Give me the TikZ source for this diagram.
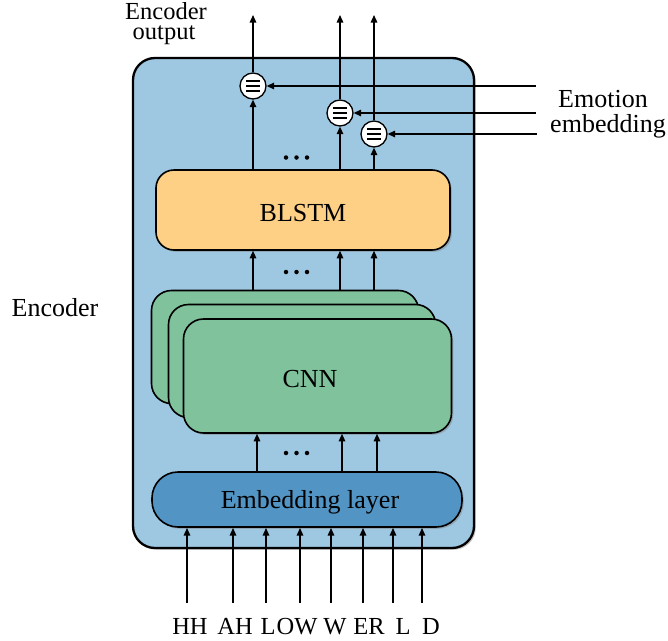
\documentclass[tikz,border=0pt]{standalone}
\usepackage{fontspec}
\setmainfont{Liberation Serif}
\usetikzlibrary{arrows.meta,shadows}
\definecolor{encbg}{HTML}{9EC7E1}
\definecolor{blstmc}{HTML}{FDD086}
\definecolor{cnnc}{HTML}{7FC29B}
\definecolor{embc}{HTML}{5294C3}
\begin{document}
\begin{tikzpicture}[x=1pt,y=-1pt,
  txt/.style={font=\fontsize{26}{30}\selectfont, inner sep=0pt, anchor=base},
  small/.style={font=\fontsize{24.5}{28}\selectfont, inner sep=0pt, anchor=base},
  box/.style={draw=black, line width=1.6pt, rounded corners=#1, inner sep=0pt,
    drop shadow={shadow xshift=1.8pt,shadow yshift=-1.8pt,opacity=0.45}},
  arr/.style={-{Triangle[length=7.5pt,width=6.5pt]}, line width=1.3pt},
  mix/.style={circle, draw, fill=white, line width=1.3pt, minimum size=26pt, inner sep=0pt,
    path picture={
      \foreach \dy in {-5,0,5}
        \draw[line width=2.2pt] ([xshift=-7pt,yshift=\dy pt]path picture bounding box.center) -- ++(14,0);
    }},
  dot/.style={circle, fill=black, inner sep=0pt, minimum size=4.5pt}
]
\useasboundingbox (0,0) rectangle (668,640);

% boxes
\node[box=22pt, fill=encbg, line width=2.3pt, minimum width=341pt, minimum height=490pt] (enc) at (303.5,303) {};
\node[box=18pt, fill=blstmc, minimum width=294pt, minimum height=80pt] (blstm) at (303,210) {};
\node[box=20pt, fill=cnnc, minimum width=267pt, minimum height=113pt] (cnnA) at (285,347) {};
\node[box=20pt, fill=cnnc, minimum width=267pt, minimum height=113pt] (cnnB) at (302,361) {};
\node[box=20pt, fill=cnnc, minimum width=268pt, minimum height=114pt] (cnnC) at (317.5,376) {};
\node[box=26pt, fill=embc, minimum width=310pt, minimum height=55pt] (emb) at (307,499.5) {};

% labels
\node[txt] (tblstm) at (303,221) {BLSTM};
\node[txt] (tcnn) at (310,387) {CNN};
\node[txt] (temb) at (310,508) {Embedding layer};
\node[txt] (tenc) at (55,316) {Encoder};
\node[small] (tout1) at (166,19) {Encoder};
\node[small] (tout2) at (164,39) {output};
\node[txt] (tem1) at (603,107) {Emotion};
\node[txt] (tem2) at (608,132) {embedding};

% mixers
\node[mix] (c1) at (253,86) {};
\node[mix] (c2) at (340,113) {};
\node[mix] (c3) at (374,134) {};

% dots
\foreach \n/\y in {A/157.5,B/272,C/453} {
  \node[dot] (\n1) at (286,\y) {};
  \node[dot] (\n2) at (296.5,\y) {};
  \node[dot] (\n3) at (307,\y) {};
}

% top coordinates
\coordinate (top) at (0,15);
\coordinate (e1) at (536,86);
\coordinate (e2) at (536,113);
\coordinate (e3) at (537,134);

% BLSTM to mixers, mixers to output
\foreach \c in {c1,c2,c3} {
  \draw[arr] (blstm.north -| \c) -- (\c.south);
  \draw[arr] (\c.north) -- (top -| \c);
  \draw[arr] (cnnA.north -| \c) -- (blstm.south -| \c);
}
\draw[arr] (e1) -- (c1.east);
\draw[arr] (e2) -- (c2.east);
\draw[arr] (e3) -- (c3.east);

% embedding to CNN
\coordinate (a1) at (257,0);
\coordinate (a2) at (342,0);
\coordinate (a3) at (377,0);
\foreach \a in {a1,a2,a3}
  \draw[arr] (emb.north -| \a) -- (cnnC.south -| \a);

% inputs
\foreach \i/\x/\lx/\t in {1/187/190/HH,2/233/235/AH,3/266/268/L,4/300/297/OW,5/331/335/W,6/363/369/ER,7/393/403/L,8/422/431/D} {
  \coordinate (in\i) at (\x,603);
  \node[small] (lab\i) at (\lx,634) {\t};
  \draw[arr] (in\i) -- (\x,528);
}
\end{tikzpicture}
\end{document}
